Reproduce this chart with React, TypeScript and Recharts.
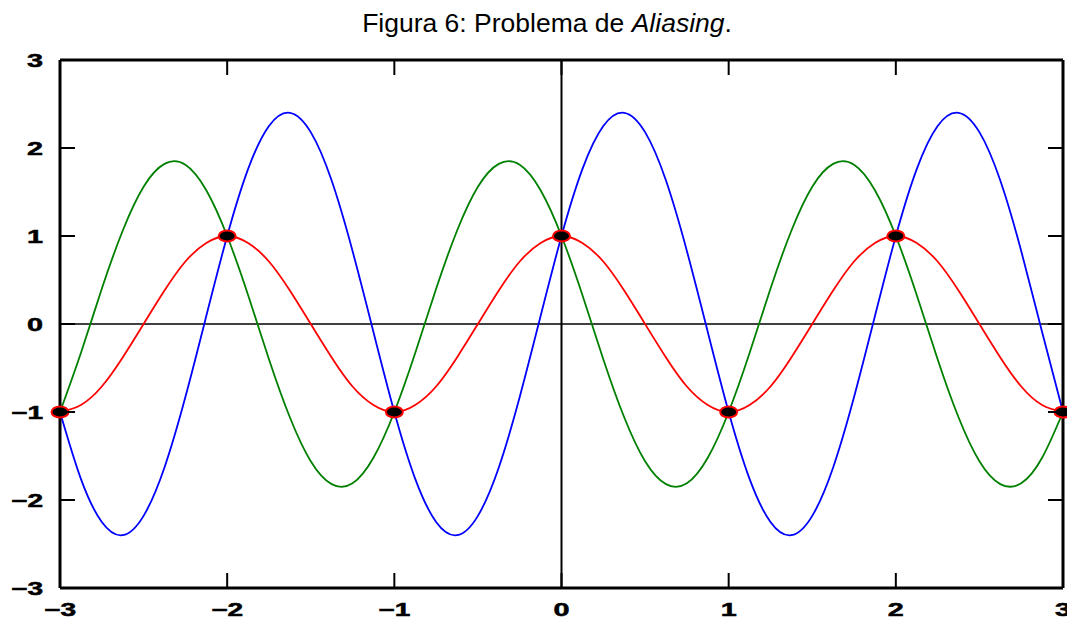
import { ComposedChart, Line, Scatter, XAxis, YAxis, ReferenceLine } from 'recharts';

// sample positions along x
const xs = [
  -3, -2.875, -2.75, -2.625, -2.5, -2.375, -2.25, -2.125,
  -2, -1.875, -1.75, -1.625, -1.5, -1.375, -1.25, -1.125,
  -1, -0.875, -0.75, -0.625, -0.5, -0.375, -0.25, -0.125,
  0, 0.125, 0.25, 0.375, 0.5, 0.625, 0.75, 0.875,
  1, 1.125, 1.25, 1.375, 1.5, 1.625, 1.75, 1.875,
  2, 2.125, 2.25, 2.375, 2.5, 2.625, 2.75, 2.875,
  3,
];

// red curve (amplitude 1)
const redVals = [
  -1, -0.92, -0.71, -0.38, 0, 0.38, 0.71, 0.92,
  1, 0.92, 0.71, 0.38, 0, -0.38, -0.71, -0.92,
  -1, -0.92, -0.71, -0.38, 0, 0.38, 0.71, 0.92,
  1, 0.92, 0.71, 0.38, 0, -0.38, -0.71, -0.92,
  -1, -0.92, -0.71, -0.38, 0, 0.38, 0.71, 0.92,
  1, 0.92, 0.71, 0.38, 0, -0.38, -0.71, -0.92,
  -1,
];

// green curve (peaks ~1.85)
const greenVals = [
  -1, -0.33, 0.4, 1.06, 1.56, 1.82, 1.81, 1.52,
  1, 0.33, -0.4, -1.06, -1.56, -1.82, -1.81, -1.52,
  -1, -0.33, 0.4, 1.06, 1.56, 1.82, 1.81, 1.52,
  1, 0.33, -0.4, -1.06, -1.56, -1.82, -1.81, -1.52,
  -1, -0.33, 0.4, 1.06, 1.56, 1.82, 1.81, 1.52,
  1, 0.33, -0.4, -1.06, -1.56, -1.82, -1.81, -1.52,
  -1,
];

// blue curve (peaks ~2.4)
const blueVals = [
  -1, -1.76, -2.25, -2.4, -2.18, -1.63, -0.83, 0.09,
  1, 1.76, 2.25, 2.4, 2.18, 1.63, 0.83, -0.09,
  -1, -1.76, -2.25, -2.4, -2.18, -1.63, -0.83, 0.09,
  1, 1.76, 2.25, 2.4, 2.18, 1.63, 0.83, -0.09,
  -1, -1.76, -2.25, -2.4, -2.18, -1.63, -0.83, 0.09,
  1, 1.76, 2.25, 2.4, 2.18, 1.63, 0.83, -0.09,
  -1,
];

// sampled points (black dots)
const sampleX = [-3, -2, -1, 0, 1, 2, 3];
const sampleY = [-1, 1, -1, 1, -1, 1, -1];

const xTicks = [-3, -2, -1, 0, 1, 2, 3];
const yTicks = [-3, -2, -1, 0, 1, 2, 3];

const rows = xs.map((x, i) => ({ x, red: redVals[i], green: greenVals[i], blue: blueVals[i] }));
const samples = sampleX.map((x, i) => ({ x, y: sampleY[i] }));

const fmt = (v: number) => (v < 0 ? '\u2212' + Math.abs(v) : String(v));

const labelStyle = {
  fontFamily: '"Liberation Sans", Arial, sans-serif',
  fontWeight: 700,
  fontSize: 18,
  fill: '#000',
  stroke: '#000',
  strokeWidth: 0.5,
};

const TICK = 15;

const BottomTick = ({ x, y, payload }: any) => {
  const s = fmt(payload.value);
  return (
    <g>
      <line x1={x} x2={x} y1={y} y2={y - TICK} stroke="#000" strokeWidth={2} />
      <text
        x={x}
        y={y + 22}
        textAnchor="middle"
        dominantBaseline="central"
        textLength={s.length * 16}
        lengthAdjust="spacingAndGlyphs"
        style={labelStyle}
      >
        {s}
      </text>
    </g>
  );
};

const LeftTick = ({ x, y, payload }: any) => {
  const s = fmt(payload.value);
  return (
    <g>
      <line x1={x} x2={x + TICK} y1={y} y2={y} stroke="#000" strokeWidth={2} />
      <text
        x={x - 17}
        y={y + 1}
        textAnchor="end"
        dominantBaseline="central"
        textLength={s.length * 16}
        lengthAdjust="spacingAndGlyphs"
        style={labelStyle}
      >
        {s}
      </text>
    </g>
  );
};

const TopTick = ({ x, y }: any) => (
  <line x1={x} x2={x} y1={y} y2={y + TICK} stroke="#000" strokeWidth={2} />
);

const RightTick = ({ x, y }: any) => (
  <line x1={x} x2={x - TICK} y1={y} y2={y} stroke="#000" strokeWidth={2} />
);

const SampleDot = ({ cx, cy }: any) => (
  <ellipse cx={cx} cy={cy} rx={8.5} ry={5.5} fill="#000" stroke="#ff0000" strokeWidth={2} />
);

const frame = { stroke: '#000', strokeWidth: 3 };

export default function App() {
  return (
    <div style={{ position: 'relative', width: 1067, height: 619, background: '#fff' }}>
      <style>{'body{margin:0}'}</style>
      <div
        style={{
          position: 'absolute',
          top: 10,
          left: 547,
          transform: 'translateX(-50%)',
          whiteSpace: 'nowrap',
          fontFamily: '"Liberation Sans", Arial, sans-serif',
          fontSize: 26.5,
          lineHeight: '26.5px',
          color: '#000',
        }}
      >
        Figura 6: Problema de <i>Aliasing</i>.
      </div>
      <ComposedChart
        width={1067}
        height={619}
        data={rows}
        margin={{ top: 59, right: 3, bottom: 0, left: 0 }}
      >
        <XAxis
          dataKey="x"
          type="number"
          domain={[-3, 3]}
          ticks={xTicks}
          interval={0}
          height={31}
          tickSize={0}
          tickMargin={0}
          tickLine={false}
          axisLine={frame}
          tick={<BottomTick />}
        />
        <XAxis
          xAxisId="top"
          dataKey="x"
          orientation="top"
          type="number"
          domain={[-3, 3]}
          allowDataOverflow
          ticks={xTicks}
          interval={0}
          height={1}
          tickSize={0}
          tickMargin={0}
          tickLine={false}
          axisLine={frame}
          tick={<TopTick />}
        />
        <YAxis
          type="number"
          domain={[-3, 3]}
          ticks={yTicks}
          interval={0}
          width={60}
          tickSize={0}
          tickMargin={0}
          tickLine={false}
          axisLine={frame}
          tick={<LeftTick />}
        />
        <YAxis
          yAxisId="right"
          orientation="right"
          type="number"
          domain={[-3, 3]}
          allowDataOverflow
          ticks={yTicks}
          interval={0}
          width={1}
          tickSize={0}
          tickMargin={0}
          tickLine={false}
          axisLine={frame}
          tick={<RightTick />}
        />
        <ReferenceLine x={0} stroke="#000" strokeWidth={2} />
        <ReferenceLine y={0} stroke="#000" strokeWidth={1.5} />
        <Line type="natural" dataKey="green" stroke="#008000" strokeWidth={1.8} dot={false} isAnimationActive={false} />
        <Line type="natural" dataKey="blue" stroke="#0000ff" strokeWidth={1.8} dot={false} isAnimationActive={false} />
        <Line type="natural" dataKey="red" stroke="#ff0000" strokeWidth={1.8} dot={false} isAnimationActive={false} />
        <Scatter data={samples} dataKey="y" shape={<SampleDot />} isAnimationActive={false} />
      </ComposedChart>
    </div>
  );
}
